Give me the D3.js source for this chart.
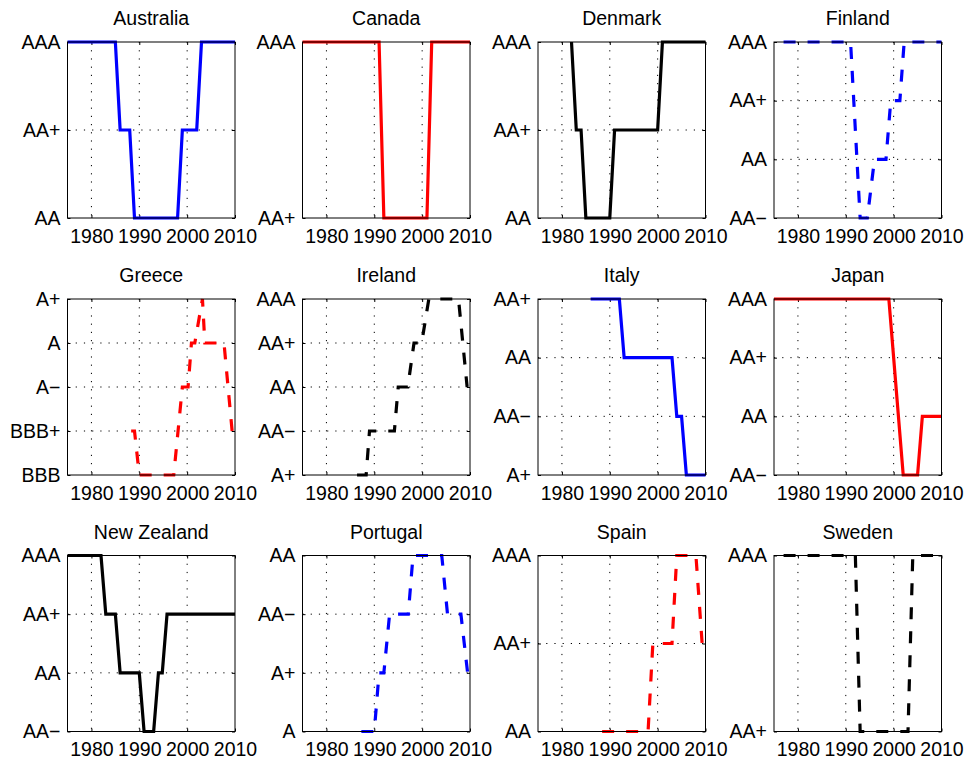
<!DOCTYPE html>
<html>
<head>
<meta charset="utf-8">
<script src="https://cdn.jsdelivr.net/npm/d3@7"></script>
<style>
  html, body { margin: 0; padding: 0; background: #fff; }
  svg { display: block; }
  text { font-family: "Liberation Sans", Arial, Helvetica, sans-serif; fill: #000; }
</style>
</head>
<body>
<svg id="chart" width="968" height="762"></svg>
<script>
// ---------- data ----------
const countries = ["Australia","Canada","Denmark","Finland","Greece","Ireland","Italy","Japan","New Zealand","Portugal","Spain","Sweden"];
const ratingScale = ["AAA","AA+","AA","AA−","A+","A","A−","BBB+","BBB"];
const xTicks = [1980, 1990, 2000, 2010];
const xDomain = [1975, 2010];

const australiaYears   = [1975,1985,1986,1988,1989,1998,1999,2002,2003,2010];
const australiaRatings = ["AAA","AAA","AA+","AA+","AA","AA","AA+","AA+","AAA","AAA"];
const australiaTicks   = ["AAA","AA+","AA"];

const canadaYears   = [1975,1991,1992,2001,2002,2010];
const canadaRatings = ["AAA","AAA","AA+","AA+","AAA","AAA"];
const canadaTicks   = ["AAA","AA+"];

const denmarkYears   = [1982,1983,1984,1985,1990,1991,2000,2001,2010];
const denmarkRatings = ["AAA","AA+","AA+","AA","AA","AA+","AA+","AAA","AAA"];
const denmarkTicks   = ["AAA","AA+","AA"];

const finlandYears   = [1977,1991,1993,1994.5,1996,1998.4,1999.4,2001.3,2002.2,2010];
const finlandRatings = ["AAA","AAA","AA−","AA−","AA","AA","AA+","AA+","AAA","AAA"];
const finlandTicks   = ["AAA","AA+","AA","AA−"];

const greeceYears   = [1988.3,1989,1990,1997.2,1999,2000.2,2000.9,2001.6,2003.2,2003.7,2007.7,2009.4];
const greeceRatings = ["BBB+","BBB+","BBB","BBB","A−","A−","A","A","A+","A","A","BBB+"];
const greeceTicks   = ["A+","A","A−","BBB+","BBB"];

const irelandYears   = [1986.4,1988.3,1989,1994.2,1995,1997,1998.3,1999.9,2001.4,2007.6,2009.4];
const irelandRatings = ["A+","A+","AA−","AA−","AA","AA","AA+","AA+","AAA","AAA","AA"];
const irelandTicks   = ["AAA","AA+","AA","AA−","A+"];

const italyYears   = [1986,1992,1993,2003,2004,2005,2006,2010];
const italyRatings = ["AA+","AA+","AA","AA","AA−","AA−","A+","A+"];
const italyTicks   = ["AA+","AA","AA−","A+"];

const japanYears   = [1975,1999,2002,2005,2006,2010];
const japanRatings = ["AAA","AAA","AA−","AA−","AA","AA"];
const japanTicks   = ["AAA","AA+","AA","AA−"];

const newZealandYears   = [1975,1982,1983,1985,1986,1990,1991,1993,1994,1994.8,1995.8,2010];
const newZealandRatings = ["AAA","AAA","AA+","AA+","AA","AA","AA−","AA−","AA","AA","AA+","AA+"];
const newZealandTicks   = ["AAA","AA+","AA","AA−"];

const portugalYears   = [1987.3,1990,1991,1992,1993.2,1997.1,1998.1,2004.1,2005.3,2008.1,2009.5];
const portugalRatings = ["A","A","A+","A+","AA−","AA−","AA","AA","AA−","AA−","A+"];
const portugalTicks   = ["AA","AA−","A+","A"];

const spainYears   = [1988.4,1998,1999,2003,2004,2008,2009.3];
const spainRatings = ["AA","AA","AA+","AA+","AAA","AAA","AA+"];
const spainTicks   = ["AAA","AA+","AA"];

const swedenYears   = [1977,1992,1993,2003,2004,2010];
const swedenRatings = ["AAA","AAA","AA+","AA+","AAA","AAA"];
const swedenTicks   = ["AAA","AA+"];

const seriesYears   = [australiaYears, canadaYears, denmarkYears, finlandYears, greeceYears, irelandYears, italyYears, japanYears, newZealandYears, portugalYears, spainYears, swedenYears];
const seriesRatings = [australiaRatings, canadaRatings, denmarkRatings, finlandRatings, greeceRatings, irelandRatings, italyRatings, japanRatings, newZealandRatings, portugalRatings, spainRatings, swedenRatings];
const seriesTicks   = [australiaTicks, canadaTicks, denmarkTicks, finlandTicks, greeceTicks, irelandTicks, italyTicks, japanTicks, newZealandTicks, portugalTicks, spainTicks, swedenTicks];

// ---------- styles ----------
const lineColors = ["#0000ff","#ff0000","#000000","#0000ff","#ff0000","#000000","#0000ff","#ff0000","#000000","#0000ff","#ff0000","#000000"];
const lineDashed = [false,false,false,true,true,true,false,false,false,true,true,true];
const FONT = 19.5;

// ---------- layout ----------
const colLeft = [67.5, 302.5, 538, 774];
const rowTop = [42, 299, 555.5];
const W = 167.5, H = 176;

const svg = d3.select("#chart");

countries.forEach((name, i) => {
  const r = Math.floor(i / 4), c = i % 4;
  const g = svg.append("g").attr("transform", `translate(${colLeft[c]},${rowTop[r]})`);
  const ticks = seriesTicks[i];
  const idx = ticks.map(t => ratingScale.indexOf(t));
  const x = d3.scaleLinear().domain(xDomain).range([0, W]);
  const y = d3.scaleLinear().domain([idx[0], idx[idx.length - 1]]).range([0, H]);

  // grid
  const grid = g.append("g");
  xTicks.filter(t => t > xDomain[0] && t < xDomain[1]).forEach(t => {
    grid.append("line").attr("x1", x(t)).attr("x2", x(t)).attr("y1", 0).attr("y2", H)
      .attr("stroke", "#000").attr("stroke-width", 1).attr("stroke-dasharray", "1.2,7");
  });
  idx.slice(1, -1).forEach(v => {
    grid.append("line").attr("x1", 0).attr("x2", W).attr("y1", y(v)).attr("y2", y(v))
      .attr("stroke", "#000").attr("stroke-width", 1).attr("stroke-dasharray", "1.2,7");
  });

  // axes (ticks inward on all sides)
  const fmtY = v => ratingScale[v];
  g.append("g").attr("transform", `translate(0,${H})`)
    .call(d3.axisBottom(x).tickValues(xTicks).tickFormat(d3.format("d")).tickSize(-3).tickPadding(11))
    .call(a => a.select(".domain").remove())
    .call(a => a.selectAll("text").attr("font-size", FONT).attr("font-family", null));
  g.append("g")
    .call(d3.axisTop(x).tickValues(xTicks).tickFormat("").tickSize(-3))
    .call(a => a.select(".domain").remove());
  g.append("g")
    .call(d3.axisLeft(y).tickValues(idx).tickFormat(fmtY).tickSize(-3).tickPadding(7))
    .call(a => a.select(".domain").remove())
    .call(a => a.selectAll("text").attr("font-size", FONT).attr("font-family", null));
  g.append("g").attr("transform", `translate(${W},0)`)
    .call(d3.axisRight(y).tickValues(idx).tickFormat("").tickSize(-3))
    .call(a => a.select(".domain").remove());

  // data line
  const pts = seriesYears[i].map((yr, k) => [yr, ratingScale.indexOf(seriesRatings[i][k])]);
  const line = d3.line().x(d => x(d[0])).y(d => y(d[1]));
  g.append("path").datum(pts)
    .attr("d", line)
    .attr("fill", "none")
    .attr("stroke", lineColors[i])
    .attr("stroke-width", 3.2)
    .attr("stroke-linejoin", "miter")
    .attr("stroke-dasharray", lineDashed[i] ? "12,12" : null);

  // frame
  g.append("rect").attr("x", 0).attr("y", 0).attr("width", W).attr("height", H)
    .attr("fill", "none").attr("stroke", "#000").attr("stroke-width", 1);

  // title
  g.append("text").attr("x", W / 2).attr("y", -17).attr("text-anchor", "middle")
    .attr("font-size", FONT).text(name);
});
</script>
</body>
</html>
